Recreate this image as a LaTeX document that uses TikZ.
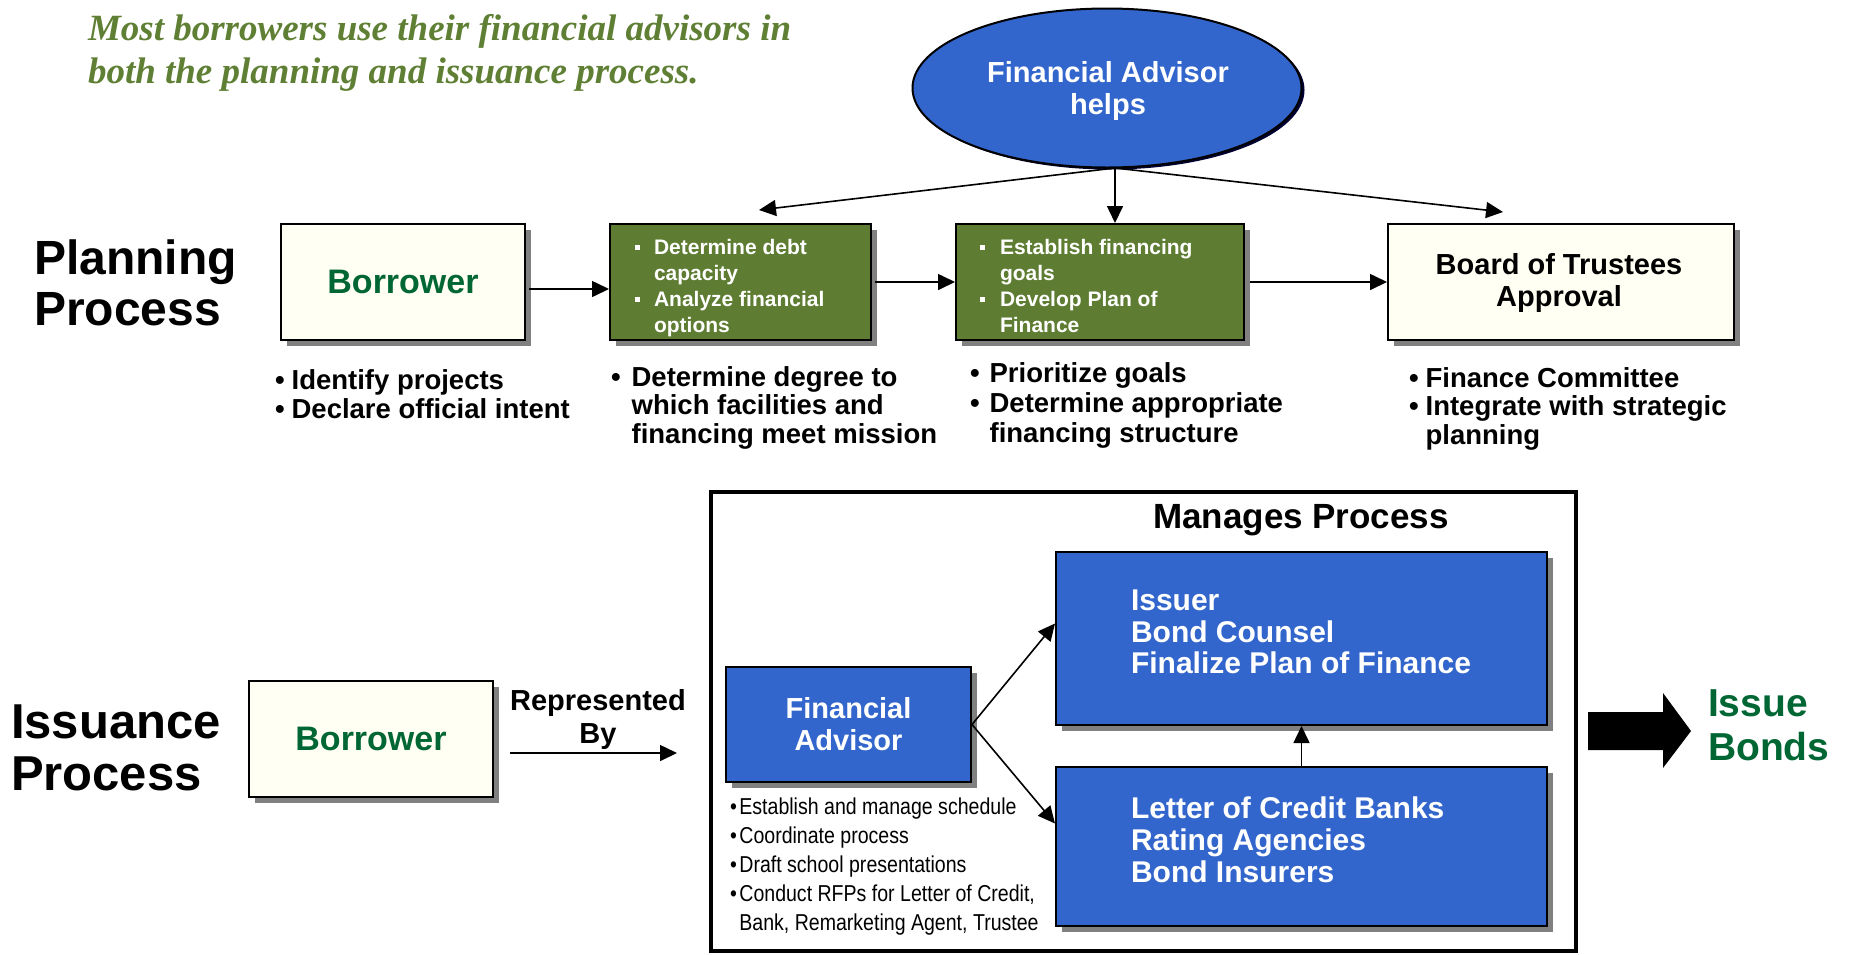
\documentclass[tikz,border=0pt]{standalone}
\usepackage{fontspec}
\setmainfont{Liberation Sans}
\newfontfamily\titlefont{Liberation Serif}
\usepackage{graphicx}
\usetikzlibrary{arrows.meta,shapes.geometric,shadows}
\definecolor{titlegreen}{RGB}{95,128,52}
\definecolor{olivefill}{RGB}{94,125,50}
\definecolor{ivory}{RGB}{255,255,243}
\definecolor{dkgreen}{RGB}{0,102,51}
\definecolor{fablue}{RGB}{51,102,204}
\definecolor{shadowgray}{RGB}{128,128,128}
\newcommand{\fsz}[2]{\fontsize{#1}{#2}\selectfont}
\newcommand{\sqb}{\rule[0.22em]{5pt}{5pt}}
\tikzset{
  box/.style={draw=black, line width=2pt, rectangle, inner sep=0pt,
    drop shadow={shadow xshift=6pt, shadow yshift=-6pt, fill=shadowgray, opacity=1}},
  creambox/.style={box, fill=ivory},
  olivebox/.style={box, fill=olivefill},
  bluebox/.style={box, fill=fablue},
  arr/.style={-{Triangle[length=17pt,width=16pt]}, line width=1.6pt},
  txt/.style={inner sep=0pt, outer sep=0pt},
}
\begin{document}
\begin{tikzpicture}[x=1pt,y=-1pt]
\useasboundingbox (0,0) rectangle (1851,954);

% title
\node[txt, anchor=west, align=left, text=titlegreen, font={\fsz{37}{43}\titlefont\bfseries\itshape}] (title) at (88,53)
  {Most borrowers use their financial advisors in\\both the planning and issuance process.};

% planning process
\node[txt, anchor=west, align=left, font={\fsz{48}{51}\bfseries}] (plan) at (34,283) {Planning\\Process};

\node[ellipse, draw=black, line width=2pt, fill=fablue, minimum width=389pt, minimum height=159pt, inner sep=0pt,
  drop shadow={shadow xshift=3pt, shadow yshift=-2pt, fill=black!80!blue, opacity=1}]
  (fa1) at (1107,88) {};
\node[txt, align=center, text=white, font={\fsz{29}{32}\bfseries}] (fa1t) at (1108,91) {Financial Advisor\\helps};

\node[creambox, minimum width=244pt, minimum height=116pt, font={\fsz{34}{40}\bfseries}, text=dkgreen] (bor1) at (403,282)
  {Borrower};
\node[olivebox, minimum width=261pt, minimum height=116pt] (g1) at (740.5,282) {};
\node[olivebox, minimum width=288pt, minimum height=116pt] (g2) at (1100,282) {};
\node[creambox, minimum width=346pt, minimum height=116pt] (board) at (1561,282) {};
\node[txt, align=center, font={\fsz{29}{32}\bfseries}] (boardt) at (1559,283) {Board of Trustees\\Approval};

\node[txt, anchor=west, text=white, font={\fsz{21}{26}\bfseries}] (g1t) at (635,288) {%
  \begin{tabular}{@{}l@{\hspace{14pt}}l@{}}\sqb & Determine debt\\ & capacity\\ \sqb & Analyze financial\\ & options\end{tabular}};
\node[txt, anchor=west, text=white, font={\fsz{21}{26}\bfseries}] (g2t) at (980,288) {%
  \begin{tabular}{@{}l@{\hspace{15pt}}l@{}}\sqb & Establish financing\\ & goals\\ \sqb & Develop Plan of\\ & Finance\end{tabular}};

\coordinate (fas) at (1115,168);
\coordinate (t1) at (759,210);
\coordinate (t3) at (1503,212);
\draw[arr] (fas) -- (t1);
\draw[arr] (fas) -- (fas |- g2.north);
\draw[arr] (fas) -- (t3);
\draw[arr] ([xshift=3pt,yshift=-7pt]bor1.east) -- ([yshift=-7pt]g1.west);
\draw[arr] ([xshift=3pt]g1.east) -- (g2.west);
\draw[arr] ([xshift=5pt]g2.east) -- (board.west);

% planning bullets
\node[txt, anchor=west, font={\fsz{27.5}{29}\bfseries}] (b1) at (275,398) {%
  \begin{tabular}{@{}l@{\hspace{7pt}}l@{}}• & Identify projects\\ • & Declare official intent\end{tabular}};
\node[txt, anchor=west, font={\fsz{27.5}{27.5}\bfseries}] (b2) at (611,409) {%
  \begin{tabular}{@{}l@{\hspace{11pt}}l@{}}• & Determine degree to\\ & which facilities and\\ & financing meet mission\end{tabular}};
\node[txt, anchor=west, font={\fsz{27.5}{30}\bfseries}] (b3) at (970,406) {%
  \begin{tabular}{@{}l@{\hspace{10pt}}l@{}}• & Prioritize goals\\ • & Determine appropriate\\ & financing structure\end{tabular}};
\node[txt, anchor=west, font={\fsz{27.5}{28.5}\bfseries}] (b4) at (1409,410) {%
  \begin{tabular}{@{}l@{\hspace{7pt}}l@{}}• & Finance Committee\\ • & Integrate with strategic\\ & planning\end{tabular}};

% issuance process
\node[txt, anchor=west, align=left, font={\fsz{49}{52}\bfseries}] (iss) at (11,748) {Issuance\\Process};
\node[creambox, minimum width=244pt, minimum height=116pt, font={\fsz{34}{40}\bfseries}, text=dkgreen] (bor2) at (371,739)
  {Borrower};
\node[txt, align=center, font={\fsz{29}{33}\bfseries}] (rep) at (598,719) {Represented\\By};
\coordinate (r1) at (510,753);
\coordinate (r2) at (677,753);
\draw[arr] (r1) -- (r2);

\node[draw=black, line width=4pt, minimum width=865pt, minimum height=459pt, inner sep=0pt] (frame) at (1143.5,721.5) {};
\node[txt, font={\fsz{35}{40}\bfseries}] (mp) at (1301,520) {Manages Process};

\node[bluebox, minimum width=491pt, minimum height=173pt] (top) at (1301.5,638.5) {};
\node[txt, anchor=west, align=left, text=white, font={\fsz{30}{31.5}\bfseries}] (topt) at (1131,632) {Issuer\\Bond Counsel\\Finalize Plan of Finance};
\node[bluebox, minimum width=491pt, minimum height=159pt] (bot) at (1301.5,846.5) {};
\node[txt, anchor=west, align=left, text=white, font={\fsz{30}{32}\bfseries}] (bott) at (1131,840) {Letter of Credit Banks\\Rating Agencies\\Bond Insurers};

\node[bluebox, minimum width=245pt, minimum height=115pt, align=center, text=white, font={\fsz{29}{32}\bfseries}] (fa2) at (848.5,724.5)
  {Financial\\Advisor};
\node[txt, anchor=west] (fab) at (730,867) {\scalebox{0.85}[1]{\fsz{23}{29}%
  \begin{tabular}{@{}l@{\hspace{3pt}}l@{}}• & Establish and manage schedule\\ • & Coordinate process\\ • & Draft school presentations\\ • & Conduct RFPs for Letter of Credit,\\ & Bank, Remarketing Agent, Trustee\end{tabular}}};

\draw[arr] (fa2.east) -- ([yshift=15pt]top.west);
\draw[arr] (fa2.east) -- ([yshift=23pt]bot.west);
\draw[arr] (bot.north) -- (top.south);

% big arrow and Issue Bonds
\fill[black] (1588,712) -- (1663,712) -- (1663,693) -- (1691,731) -- (1663,768) -- (1663,750) -- (1588,750) -- cycle;
\node[txt, anchor=west, align=left, text=dkgreen, font={\fsz{39}{44}\bfseries}] (ib) at (1708,725) {Issue\\Bonds};
\end{tikzpicture}
\end{document}
